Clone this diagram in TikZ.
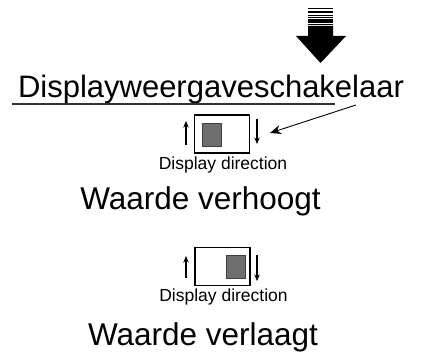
\documentclass[tikz,border=0pt]{standalone}
\usepackage{fontspec}
\setmainfont{Liberation Sans}
\usetikzlibrary{arrows.meta}
\begin{document}
\begin{tikzpicture}[x=1pt,y=1pt,
  bigtxt/.style={inner sep=0pt,anchor=base,font=\fontsize{31}{31}\selectfont},
  midtxt/.style={inner sep=0pt,anchor=base,font=\fontsize{31.5}{31.5}\selectfont},
  smalltxt/.style={inner sep=0pt,anchor=base,font=\fontsize{17.5}{17.5}\selectfont},
  dispbox/.style={draw=black,line width=1.7pt,inner sep=0pt,minimum width=55pt,minimum height=38pt},
  slider/.style={draw=black!75,fill=black!57,line width=0.8pt,inner sep=0pt,minimum width=19pt,minimum height=23pt},
  dirarrow/.style={line width=1.3pt,-{Stealth[length=6.5pt,width=5.5pt]}},
  leader/.style={line width=0.9pt,-{Stealth[length=11pt,width=9pt,inset=3.5pt]}}
]
\useasboundingbox (0,0) rectangle (427,356);
% big arrow
\fill[black] (308,330) -- (333,330) -- (333,320) -- (346,320) -- (320.5,293) -- (296,320) -- (308,320) -- cycle;
\foreach \yy/\hh in {347.5/0.8, 344.5/0.8, 342.5/1.0, 340/1.0, 338/1.2, 336/1.4, 334.3/1.3, 332.5/1.5, 331/1.2} {
  \fill[black] (308,\yy) rectangle (333,\yy+\hh);
}
% title
\node[bigtxt] (title) at (211,258) {Displayweergaveschakelaar};
\coordinate (ulA) at (12,252);
\coordinate (ulB) at (335,252);
\draw[black!80,line width=1.1pt] (ulA) -- (ulB);
\coordinate (ldA) at (356,251);
% box 1
\node[dispbox] (box1) at (222,222) {};
\node[slider] (sl1) at (211.5,221.5) {};
\coordinate (u1a) at (186,211); \coordinate (u1b) at (186,235);
\coordinate (d1a) at (257,237); \coordinate (d1b) at (257,212);
\draw[dirarrow] (u1a) -- (u1b);
\draw[dirarrow] (d1a) -- (d1b);
\coordinate (ldB) at (270,223);
\draw[leader] (ldA) -- (ldB);
\node[smalltxt] (dd1) at (223,186) {Display direction};
\node[midtxt] (up) at (200.5,147) {Waarde verhoogt};
% box 2
\node[dispbox] (box2) at (222.5,89.5) {};
\node[slider] (sl2) at (235.5,89.5) {};
\coordinate (u2a) at (186,78); \coordinate (u2b) at (186,100);
\coordinate (d2a) at (257,101); \coordinate (d2b) at (257,75);
\draw[dirarrow] (u2a) -- (u2b);
\draw[dirarrow] (d2a) -- (d2b);
\node[smalltxt] (dd2) at (223.5,55) {Display direction};
\node[midtxt] (down) at (203,11) {Waarde verlaagt};
\end{tikzpicture}
\end{document}
